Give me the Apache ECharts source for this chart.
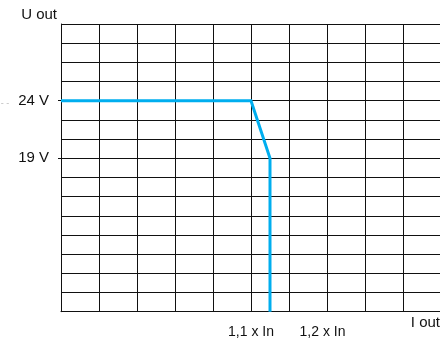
<!DOCTYPE html>
<html>
<head>
<meta charset="utf-8">
<script src="https://cdn.jsdelivr.net/npm/echarts@6/dist/echarts.min.js"></script>
<style>html,body{margin:0;padding:0;background:#fff}#c{width:440px;height:340px}</style>
</head>
<body>
<div id="c"></div>
<script>
// Rows of the grid (y axis categories, bottom to top); labels only at two levels
const yLevelLabels = ['', '', '', '', '', '', '', '', '19 V', '', '', '24 V', '', '', '', ''];
// X tick labels (value of grid column -> text)
const xTickValues = [5, 7];
const xTickTexts = ['1,1 x In', '1,2 x In'];
// Characteristic curve: current (grid columns) and voltage (grid rows)
const currentX = [0, 5, 5.5, 5.5];
const voltageRow = [11, 11, 8, 0];

const FONT = '"Liberation Sans", Arial, Helvetica, sans-serif';
const chart = echarts.init(document.getElementById('c'), null, {renderer: 'canvas'});
chart.setOption({
  animation: false,
  backgroundColor: '#fff',
  textStyle: {fontFamily: FONT},
  grid: {left: 61, top: 24, width: 380, height: 287.7, containLabel: false, outerBoundsMode: 'none'},
  xAxis: {
    type: 'value', min: 0, max: 10, interval: 1,
    name: 'I out', nameLocation: 'end', nameGap: -1,
    nameTextStyle: {fontFamily: FONT, fontSize: 15, color: '#111', align: 'right', verticalAlign: 'top', padding: [4, 0, 0, 0]},
    axisLine: {show: true, lineStyle: {color: '#111', width: 1}},
    axisTick: {show: false},
    splitLine: {show: true, lineStyle: {color: '#111', width: 1}},
    axisLabel: {
      margin: 13, fontFamily: FONT, fontSize: 14, color: '#111',
      showMinLabel: true, showMaxLabel: true,
      formatter: function (v) {
        const i = xTickValues.indexOf(v);
        if (i < 0) return '';
        return i === 1 ? '{s|' + xTickTexts[i] + '}' : xTickTexts[i];
      },
      rich: {s: {fontFamily: FONT, fontSize: 14, color: '#111', padding: [0, 9, 0, 0]}}
    }
  },
  yAxis: {
    type: 'category', boundaryGap: false, data: yLevelLabels,
    name: 'U out', nameLocation: 'end', nameGap: 2,
    nameTextStyle: {fontFamily: FONT, fontSize: 15, color: '#111', align: 'right', verticalAlign: 'bottom', padding: [0, 4, 0, 0]},
    axisLine: {show: true, lineStyle: {color: '#111', width: 1}},
    axisTick: {show: true, length: 3, lineStyle: {color: '#111'},
      interval: function (idx, val) { return val !== ''; }},
    splitLine: {show: true, interval: 0, lineStyle: {color: '#111', width: 1}},
    axisLabel: {
      margin: 12, interval: 0, fontFamily: FONT, fontSize: 15, color: '#111',
      formatter: function (val) {
        if (val === '24 V') return '{g|- -}{t|24 V}';
        return val;
      },
      rich: {
        g: {fontFamily: FONT, fontSize: 9, color: '#bbb', padding: [5, 9, 0, 0]},
        t: {fontFamily: FONT, fontSize: 15, color: '#111'}
      }
    }
  },
  series: [{
    type: 'line',
    data: currentX.map(function (x, i) { return [x, voltageRow[i]]; }),
    symbol: 'none',
    clip: false,
    lineStyle: {color: '#00aeef', width: 3, cap: 'butt', join: 'miter'},
    z: 5
  }]
});
</script>
</body>
</html>
